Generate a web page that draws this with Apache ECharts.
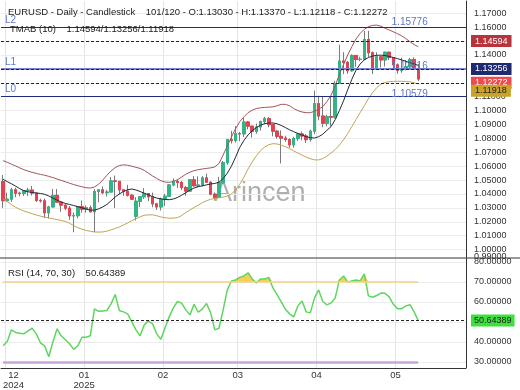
<!DOCTYPE html>
<html><head><meta charset="utf-8">
<script src="https://cdn.jsdelivr.net/npm/echarts@6/dist/echarts.min.js"></script>
<style>html,body{margin:0;padding:0;background:#fff}#c{width:520px;height:390px}</style>
</head><body><div id="c"></div>
<script>
const dates = ['2024-12-18','2024-12-19','2024-12-20','2024-12-23','2024-12-24','2024-12-26','2024-12-27','2024-12-30','2024-12-31','2025-01-01','2025-01-02','2025-01-03','2025-01-06','2025-01-07','2025-01-08','2025-01-09','2025-01-10','2025-01-13','2025-01-14','2025-01-15','2025-01-16','2025-01-17','2025-01-20','2025-01-21','2025-01-22','2025-01-23','2025-01-24','2025-01-27','2025-01-28','2025-01-29','2025-01-30','2025-01-31','2025-02-03','2025-02-04','2025-02-05','2025-02-06','2025-02-07','2025-02-10','2025-02-11','2025-02-12','2025-02-13','2025-02-14','2025-02-17','2025-02-18','2025-02-19','2025-02-20','2025-02-21','2025-02-24','2025-02-25','2025-02-26','2025-02-27','2025-02-28','2025-03-03','2025-03-04','2025-03-05','2025-03-06','2025-03-07','2025-03-10','2025-03-11','2025-03-12','2025-03-13','2025-03-14','2025-03-17','2025-03-18','2025-03-19','2025-03-20','2025-03-21','2025-03-24','2025-03-25','2025-03-26','2025-03-27','2025-03-28','2025-03-31','2025-04-01','2025-04-02','2025-04-03','2025-04-04','2025-04-07','2025-04-08','2025-04-09','2025-04-10','2025-04-11','2025-04-14','2025-04-15','2025-04-16','2025-04-17','2025-04-18','2025-04-21','2025-04-22','2025-04-23','2025-04-24','2025-04-25','2025-04-28','2025-04-29','2025-04-30','2025-05-01','2025-05-02','2025-05-05','2025-05-06','2025-05-07','2025-05-08'];

const open = [1.0490,1.0352,1.0363,1.0430,1.0406,1.0404,1.0424,1.0428,1.0407,1.0354,
1.0351,1.0265,1.0307,1.0390,1.0341,1.0320,1.0298,1.0243,1.0244,1.0309,
1.0291,1.0301,1.0272,1.0418,1.0430,1.0409,1.0414,1.0494,1.0491,1.0430,
1.0420,1.0391,1.0240,1.0348,1.0380,1.0403,1.0380,1.0329,1.0307,1.0362,
1.0384,1.0465,1.0491,1.0483,1.0446,1.0421,1.0502,1.0459,1.0465,1.0516,
1.0485,1.0399,1.0375,1.0481,1.0625,1.0791,1.0784,1.0834,1.0833,1.0918,
1.0888,1.0851,1.0882,1.0921,1.0943,1.0899,1.0852,1.0815,1.0802,1.0792,
1.0754,1.0799,1.0832,1.0817,1.0791,1.0852,1.1050,1.0961,1.0909,1.0956,
1.0953,1.1195,1.1357,1.1347,1.1287,1.1397,1.1368,1.1369,1.1512,1.1416,
1.1310,1.1387,1.1364,1.1420,1.1381,1.1329,1.1290,1.1299,1.1315,1.1367,
1.13030];
const high = [1.0536,1.0410,1.0445,1.0445,1.0416,1.0429,1.0445,1.0458,1.0412,1.0366,
1.0367,1.0315,1.0437,1.0436,1.0344,1.0325,1.0313,1.0267,1.0311,1.0353,
1.0318,1.0317,1.0435,1.0433,1.0454,1.0430,1.0522,1.0533,1.0492,1.0437,
1.0466,1.0401,1.0377,1.0383,1.0442,1.0405,1.0410,1.0336,1.0374,1.0401,
1.0472,1.0513,1.0506,1.0494,1.0458,1.0505,1.0528,1.0527,1.0529,1.0546,
1.0491,1.0411,1.0523,1.0638,1.0797,1.0854,1.0888,1.0846,1.0947,1.0925,
1.0890,1.0906,1.0928,1.0955,1.0953,1.0906,1.0860,1.0857,1.0819,1.0801,
1.0812,1.0838,1.0849,1.0832,1.0863,1.1144,1.1107,1.1100,1.0971,1.1100,
1.1214,1.1474,1.1420,1.1357,1.1405,1.1399,1.1387,1.1573,1.1573,1.1425,
1.1420,1.1390,1.1424,1.1423,1.1382,1.1340,1.1380,1.1364,1.1380,1.1383,
1.13370];
const low = [1.0300,1.0343,1.0343,1.0377,1.0383,1.0386,1.0386,1.0389,1.0343,1.0338,
1.0226,1.0224,1.0303,1.0336,1.0272,1.0283,1.0214,1.0125,1.0225,1.0266,
1.0266,1.0266,1.0125,1.0340,1.0398,1.0382,1.0413,1.0300,1.0398,1.0386,
1.0382,1.0357,1.0210,1.0306,1.0365,1.0349,1.0305,1.0285,1.0281,1.0314,
1.0383,1.0456,1.0442,1.0428,1.0387,1.0418,1.0454,1.0448,1.0453,1.0483,
1.0390,1.0359,1.0375,1.0471,1.0610,1.0763,1.0770,1.0779,1.0810,1.0865,
1.0806,1.0834,1.0856,1.0902,1.0880,1.0815,1.0798,1.0620,1.0776,1.0733,
1.0733,1.0783,1.0786,1.0767,1.0777,1.0830,1.0930,1.0880,1.0888,1.0888,
1.0942,1.1193,1.1262,1.1265,1.1280,1.1315,1.1355,1.1365,1.1386,1.1263,
1.1300,1.1310,1.1317,1.1364,1.1295,1.1265,1.1272,1.1289,1.1299,1.1294,
1.12118];
const close = [1.0352,1.0363,1.0430,1.0406,1.0404,1.0424,1.0428,1.0407,1.0354,1.0351,
1.0265,1.0307,1.0390,1.0341,1.0320,1.0298,1.0243,1.0244,1.0309,1.0291,
1.0301,1.0272,1.0418,1.0430,1.0409,1.0414,1.0494,1.0491,1.0430,1.0420,
1.0391,1.0363,1.0348,1.0380,1.0403,1.0380,1.0329,1.0307,1.0362,1.0384,
1.0465,1.0491,1.0483,1.0446,1.0421,1.0502,1.0459,1.0465,1.0516,1.0485,
1.0399,1.0375,1.0481,1.0625,1.0791,1.0784,1.0834,1.0833,1.0918,1.0888,
1.0851,1.0882,1.0921,1.0943,1.0899,1.0852,1.0815,1.0802,1.0792,1.0754,
1.0799,1.0832,1.0817,1.0791,1.0852,1.1050,1.0961,1.0909,1.0956,1.0953,
1.1195,1.1357,1.1347,1.1287,1.1397,1.1368,1.1369,1.1512,1.1416,1.1310,
1.1387,1.1364,1.1420,1.1381,1.1329,1.1290,1.1299,1.1315,1.1367,1.1303,
1.12272];

const tmaMid = [1.0506,1.0489,1.0474,1.0457,1.0439,1.0424,1.0416,1.0411,1.0407,1.0404,
1.0398,1.0386,1.0371,1.0356,1.0343,1.0332,1.0325,1.0317,1.0309,1.0300,
1.0292,1.0284,1.0284,1.0293,1.0307,1.0325,1.0351,1.0379,1.0400,1.0418,
1.0431,1.0436,1.0429,1.0418,1.0406,1.0394,1.0381,1.0371,1.0365,1.0361,
1.0359,1.0364,1.0375,1.0391,1.0409,1.0428,1.0443,1.0453,1.0459,1.0466,
1.0472,1.0476,1.0485,1.0510,1.0550,1.0600,1.0665,1.0735,1.0785,1.0825,
1.0855,1.0878,1.0895,1.0906,1.0911,1.0911,1.0905,1.0893,1.0878,1.0862,
1.0848,1.0836,1.0825,1.0813,1.0805,1.0803,1.0812,1.0830,1.0858,1.0885,
1.0935,1.1000,1.1070,1.1150,1.1225,1.1290,1.1335,1.1365,1.1382,1.1392,
1.1398,1.1399,1.1396,1.1390,1.1382,1.1374,1.1365,1.1355,1.1345,1.1335,
1.13256];
const tmaUpper = [1.0640,1.0628,1.0615,1.0602,1.0588,1.0575,1.0565,1.0556,1.0548,1.0541,
1.0535,1.0527,1.0518,1.0508,1.0498,1.0488,1.0478,1.0468,1.0460,1.0452,
1.0445,1.0443,1.0450,1.0470,1.0500,1.0535,1.0565,1.0590,1.0605,1.0610,
1.0607,1.0600,1.0592,1.0584,1.0570,1.0550,1.0530,1.0512,1.0496,1.0486,
1.0484,1.0490,1.0503,1.0522,1.0542,1.0557,1.0568,1.0575,1.0580,1.0584,
1.0588,1.0595,1.0620,1.0680,1.0745,1.0810,1.0870,1.0920,1.0955,1.0985,
1.1003,1.1015,1.1020,1.1023,1.1025,1.1027,1.1035,1.1045,1.1045,1.1035,
1.1015,1.1000,1.0990,1.0985,1.0985,1.0995,1.1010,1.1028,1.1065,1.1110,
1.1180,1.1260,1.1330,1.1400,1.1460,1.1515,1.1555,1.1585,1.1603,1.1613,
1.1615,1.1607,1.1593,1.1580,1.1567,1.1553,1.1538,1.1518,1.1496,1.1475,
1.14594];
const tmaLower = [1.0365,1.0345,1.0325,1.0305,1.0290,1.0278,1.0268,1.0258,1.0249,1.0241,
1.0234,1.0228,1.0222,1.0216,1.0210,1.0202,1.0190,1.0172,1.0158,1.0147,
1.0138,1.0132,1.0127,1.0126,1.0127,1.0133,1.0142,1.0152,1.0163,1.0177,
1.0192,1.0208,1.0222,1.0236,1.0247,1.0250,1.0250,1.0244,1.0235,1.0229,
1.0226,1.0226,1.0230,1.0245,1.0266,1.0285,1.0303,1.0320,1.0338,1.0352,
1.0362,1.0368,1.0373,1.0378,1.0385,1.0400,1.0430,1.0470,1.0520,1.0580,
1.0630,1.0675,1.0712,1.0738,1.0755,1.0762,1.0760,1.0752,1.0740,1.0726,
1.0710,1.0695,1.0680,1.0666,1.0654,1.0646,1.0645,1.0655,1.0672,1.0695,
1.0720,1.0752,1.0790,1.0835,1.0885,1.0935,1.0985,1.1035,1.1085,1.1130,
1.1165,1.1190,1.1203,1.1208,1.1210,1.1211,1.1211,1.1210,1.1207,1.1200,
1.11918];

const rsi = [38,40.2,46,44.7,44.3,44,45.5,46.8,44,39.5,
38,32.5,40,46.5,43,41,39,36.2,38,42.3,
42.3,43,56.5,55.3,55.5,55.7,59,63.7,55.7,55,
54,50,46,43,48.5,50.5,49,44,41.2,47,
52.5,57,60.2,59.4,56,53.5,58.8,54.8,56.5,59.2,
54.5,46,46.8,56,66,70.5,71,72.3,73,74.6,
71.5,69.5,71.5,71.5,72.3,67,63.6,60,56.3,54,
52.5,58,60.5,55,54.5,62,66,60.2,58.5,59.5,
62,71,73,70,70.5,71,70.5,74,63,62.3,
63.2,64.4,64.3,62.5,58.8,56.6,56.6,58,58.6,55,
50.64389];

const levels = { L2: 1.15776, L1: 1.12616, L0: 1.10579 };
const lastUpper = 1.14594, lastMid = 1.13256, lastLower = 1.11918, lastClose = 1.12272;
const rsiLast = 50.64389, rsiHigh = 70, rsiLow = 30;
const priceTicks = [1.00,1.01,1.02,1.03,1.04,1.05,1.06,1.07,1.08,1.09,1.10,1.11,1.12,1.13,1.14,1.15,1.16,1.17];
const priceBottomLabel = 0.99;
const rsiTicks = [30,40,50,60,70,80];
const monthLineIdx = [1,20,39,57,76,95];
const monthLabelIdx = [3,20,39,57,76,95];

const FONT = "'Liberation Sans', Arial, sans-serif";
const N_EMPTY = 11;
const cats = dates.concat(Array.from({length: N_EMPTY}, (_, k) => 'pad' + k));
const priceMin = 0.99468, priceMax = 1.17885;
const lastIdx = dates.length - 1;

const candleFull = dates.map((d, i) => [open[i], close[i], low[i], high[i]]);
const candleBody = dates.map((d, i) => [open[i], close[i], Math.min(open[i], close[i]), Math.max(open[i], close[i])]);
const rsiOver = rsi.map(v => Math.max(v, rsiHigh));

const UP = '#33b487', DOWN = '#e2434e', WICK = '#7a7a7a';
const LVL_TXT = '#5d78c6';

function levelLine(v, name, color, width) {
  return [
    { yAxis: v, lineStyle: { color: color, width: width, type: 'solid' },
      label: { show: true, position: 'insideStartTop', formatter: name, color: LVL_TXT, fontSize: 10, fontFamily: FONT, distance: [4, 2] } },
    [ { xAxis: 0, yAxis: v, lineStyle: { color: 'rgba(0,0,0,0)', width: 0 },
        label: { show: true, opacity: 1, position: 'insideEndTop', formatter: v.toFixed(5), color: LVL_TXT, fontSize: 10, fontFamily: FONT, distance: 3 } },
      { xAxis: 103, yAxis: v, lineStyle: { color: 'rgba(0,0,0,0)', width: 0 },
        label: { show: true, opacity: 1, position: 'insideEndTop', formatter: v.toFixed(5), color: LVL_TXT, fontSize: 10, fontFamily: FONT, distance: 3 } } ]
  ];
}
function badgeLine(v, bg, fg, dy) {
  return { yAxis: v, lineStyle: { type: [3, 2], color: '#222', width: 1 },
    label: { show: true, position: 'end', formatter: v.toFixed(5), backgroundColor: bg, color: fg,
      padding: [2, 4, 1, 4], fontSize: 9, fontFamily: FONT, distance: 5, offset: [0, dy || 0] } };
}

const mainMarks = []
  .concat(levelLine(levels.L2, 'L2', '#1f2b7b', 1.2))
  .concat(levelLine(levels.L1, 'L1', '#7c82d4', 2))
  .concat(levelLine(levels.L0, 'L0', '#1f2b7b', 1.2))
  .concat([
    badgeLine(lastUpper, '#b8333b', '#fff'),
    badgeLine(lastMid, '#1d2a70', '#fff'),
    badgeLine(lastClose, '#ef4a4f', '#fff'),
    badgeLine(lastLower, '#c9a227', '#222', 8)
  ]);

const chart = echarts.init(document.getElementById('c'), null, { renderer: 'canvas', width: 520, height: 390 });
chart.setOption({
  animation: false,
  backgroundColor: '#fff',
  textStyle: { fontFamily: FONT },
  grid: [
    { left: 1, width: 465, top: 1, height: 256 },
    { left: 1, width: 465, top: 258, height: 110 }
  ],
  xAxis: [
    { type: 'category', gridIndex: 0, data: cats, boundaryGap: true,
      axisLine: { show: false }, axisTick: { show: false }, axisLabel: { show: false },
      splitLine: { show: true, interval: (i) => monthLineIdx.includes(i), lineStyle: { color: '#e4e4e4', width: 1 } } },
    { type: 'category', gridIndex: 1, data: cats, boundaryGap: true,
      axisLine: { show: true, lineStyle: { color: '#333', width: 1 } }, axisTick: { show: false },
      axisLabel: { show: true, interval: (i) => monthLabelIdx.includes(i), fontSize: 9.5, color: '#333', fontFamily: FONT,
        lineHeight: 9.5, margin: 3, padding: [0, 4, 0, 0],
        formatter: (val, i) => { const d = dates[i]; if (!d) return ''; const m = d.slice(5, 7);
          return (i === monthLabelIdx[0] || m === '01') ? m + '\n' + d.slice(0, 4) : m; } },
      splitLine: { show: true, interval: (i) => monthLineIdx.includes(i), lineStyle: { color: '#e4e4e4', width: 1 } } }
  ],
  yAxis: [
    { type: 'value', gridIndex: 0, position: 'right', min: priceMin, max: priceMax,
      axisLine: { show: true, lineStyle: { color: '#333', width: 1 } },
      axisTick: { show: false, customValues: priceTicks },
      axisLabel: { show: true, customValues: priceTicks, formatter: v => v.toFixed(5),
        fontSize: 9, color: '#333', fontFamily: FONT, margin: 8 },
      splitLine: { show: true, lineStyle: { color: '#ececec', width: 1 } } },
    { type: 'value', gridIndex: 1, position: 'right', min: 27, max: 82,
      axisLine: { show: true, lineStyle: { color: '#333', width: 1 } },
      axisTick: { show: false, customValues: rsiTicks },
      axisLabel: { show: true, customValues: rsiTicks, formatter: v => v.toFixed(5), fontSize: 9, color: '#333', fontFamily: FONT, margin: 8 },
      splitLine: { show: true, lineStyle: { color: '#ececec', width: 1 } } },
    { type: 'value', gridIndex: 0, position: 'right', min: priceMin, max: priceMax,
      axisLine: { show: false }, axisTick: { show: false }, splitLine: { show: false },
      axisLabel: { show: true, showMinLabel: true, customValues: [priceMin + 0.00002], formatter: () => priceBottomLabel.toFixed(5),
        fontSize: 9, color: '#333', fontFamily: FONT, margin: 8 } }
  ],
  graphic: [
    { type: 'text', left: 8, top: 7, z: 100, style: { text: 'EURUSD - Daily - Candlestick    101/120 - O:1.13030 - H:1.13370 - L:1.12118 - C:1.12272', fill: '#222', font: '9.5px ' + FONT } },
    { type: 'text', left: 10, top: 24, z: 100, style: { text: 'TMAB (10)    1.14594/1.13256/1.11918', fill: '#222', font: '9.5px ' + FONT } },
    { type: 'text', left: 8, top: 268, z: 100, style: { text: 'RSI (14, 70, 30)    50.64389', fill: '#222', font: '9.5px ' + FONT } },
    { type: 'text', left: 214, top: 180, z: 0, style: { text: 'Arincen', fill: 'rgba(110,110,110,0.55)', font: '27px ' + FONT } },
    { type: 'line', z: 100, shape: { x1: 0, y1: 258, x2: 520, y2: 258 }, style: { stroke: '#333', lineWidth: 1 } }
  ],
  series: [
    { name: 'wick', type: 'candlestick', xAxisIndex: 0, yAxisIndex: 0, data: candleFull, barWidth: 3,
      itemStyle: { color: WICK, color0: WICK, borderColor: WICK, borderColor0: WICK, borderWidth: 1 }, silent: true },
    { name: 'body', type: 'candlestick', xAxisIndex: 0, yAxisIndex: 0, data: candleBody, barWidth: 3,
      itemStyle: { color: UP, color0: DOWN, borderColor: UP, borderColor0: DOWN, borderColorDoji: WICK, borderWidth: 1 }, silent: true },
    { name: 'upper', type: 'line', xAxisIndex: 0, yAxisIndex: 0, data: tmaUpper, showSymbol: false, smooth: false,
      lineStyle: { color: '#a2545c', width: 1 }, silent: true },
    { name: 'lower', type: 'line', xAxisIndex: 0, yAxisIndex: 0, data: tmaLower, showSymbol: false,
      lineStyle: { color: '#bfa653', width: 1 }, silent: true },
    { name: 'mid', type: 'line', xAxisIndex: 0, yAxisIndex: 0, data: tmaMid, showSymbol: false,
      lineStyle: { color: '#232739', width: 1 }, silent: true,
      markLine: { silent: true, symbol: 'none', animation: false, data: mainMarks } },
    { name: 'rsiOver', type: 'line', xAxisIndex: 1, yAxisIndex: 1, data: rsiOver, showSymbol: false,
      lineStyle: { width: 0, opacity: 0 }, areaStyle: { origin: rsiHigh, color: '#f6c945', opacity: 0.9 }, silent: true },
    { name: 'rsi', type: 'line', xAxisIndex: 1, yAxisIndex: 1, data: rsi, showSymbol: false,
      lineStyle: { color: '#5fd65f', width: 1.5 }, silent: true,
      markLine: { silent: true, symbol: 'none', animation: false, data: [
        [ { xAxis: 0, yAxis: rsiHigh, lineStyle: { color: '#f2d58a', width: 1.5, type: 'solid' }, label: { show: false } }, { xAxis: lastIdx, yAxis: rsiHigh } ],
        [ { xAxis: 0, yAxis: rsiLow, lineStyle: { color: '#c9a6dc', width: 2.5, type: 'solid' }, label: { show: false } }, { xAxis: lastIdx, yAxis: rsiLow } ],
        { yAxis: rsiLast, lineStyle: { type: [3, 2], color: '#222', width: 1 },
          label: { show: true, position: 'end', formatter: rsiLast.toFixed(5), backgroundColor: '#3de03d', color: '#222',
            padding: [2, 3, 1, 3], fontSize: 9, fontFamily: FONT, distance: 5 } }
      ] } }
  ]
});
</script></body></html>
